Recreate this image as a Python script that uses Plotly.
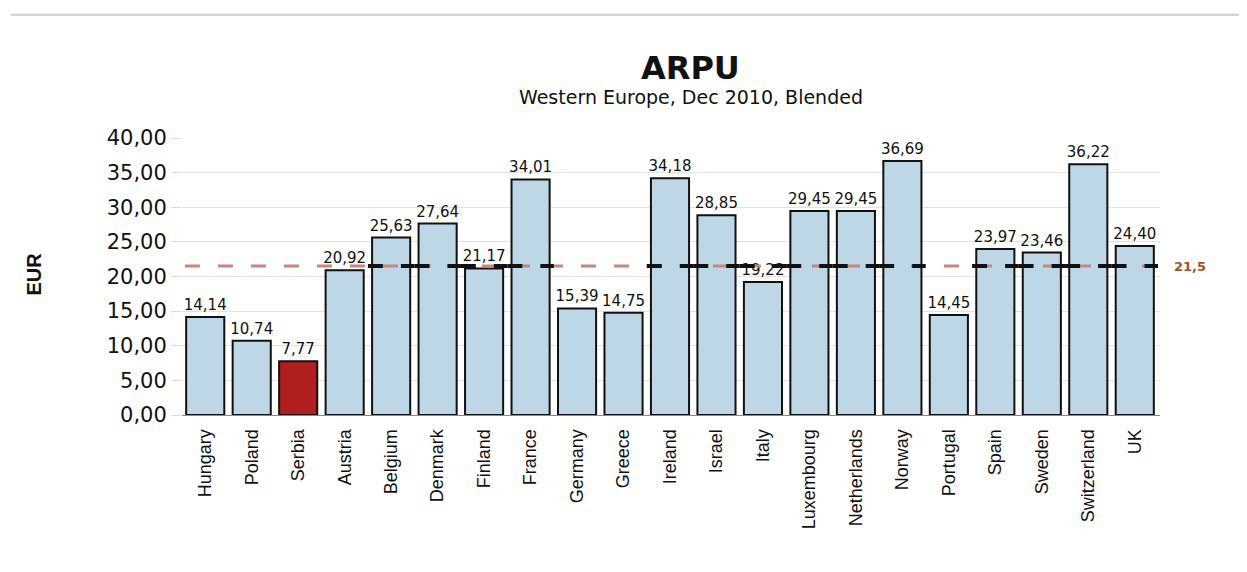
import plotly.graph_objects as go

countries = ["Hungary", "Poland", "Serbia", "Austria", "Belgium", "Denmark", "Finland",
             "France", "Germany", "Greece", "Ireland", "Israel", "Italy", "Luxembourg",
             "Netherlands", "Norway", "Portugal", "Spain", "Sweden", "Switzerland", "UK"]
arpu = [14.14, 10.74, 7.77, 20.92, 25.63, 27.64, 21.17, 34.01, 15.39, 14.75, 34.18,
        28.85, 19.22, 29.45, 29.45, 36.69, 14.45, 23.97, 23.46, 36.22, 24.40]
highlight = "Serbia"
average = 21.5
# categories over which the average line appears black in the scan
dark_line_over = ["Belgium", "Denmark", "Finland", "France", "Ireland", "Israel", "Italy",
                  "Luxembourg", "Netherlands", "Norway", "Spain", "Sweden", "Switzerland", "UK"]
y_ticks = [0, 5, 10, 15, 20, 25, 30, 35, 40]

colors = ["#b01e1e" if c == highlight else "#bdd7e7" for c in countries]

fig = go.Figure()
fig.add_trace(go.Bar(
    x=countries, y=arpu,
    marker=dict(color=colors, line=dict(color="#111111", width=2)),
    texttemplate="%{y:.2f}", textposition="outside", cliponaxis=False,
    constraintext="none",
    textfont=dict(family="DejaVu Sans", size=15, color="#111111"),
    showlegend=False,
))

shapes = [dict(type="line", xref="paper", yref="y", x0=0.003, x1=1.005, y0=average, y1=average,
               line=dict(color="#c9877a", width=3, dash="15px,18px"), layer="above")]
for c in dark_line_over:
    i = countries.index(c)
    shapes.append(dict(type="line", xref="x", yref="y", x0=i - 0.5, x1=i + 0.5,
                       y0=average, y1=average,
                       line=dict(color="#111111", width=4, dash="15px,18px"), layer="above"))
# scan frame line at top
shapes.append(dict(type="line", xref="paper", yref="paper", x0=-0.175, x1=1.1, y0=1.445, y1=1.445,
                   line=dict(color="#cccccc", width=2)))

fig.update_layout(
    width=1247, height=572,
    paper_bgcolor="white", plot_bgcolor="white",
    separators=",.",
    margin=dict(l=174, r=95, t=130, b=165),
    bargap=0.18,
    shapes=shapes,
    font=dict(family="DejaVu Sans", color="#111111"),
    xaxis=dict(
        tickangle=-90, showline=True, linecolor="#888888", linewidth=1,
        tickfont=dict(family="Liberation Sans", size=18, color="#111111"),
        ticks="outside", ticklen=6, tickcolor="rgba(0,0,0,0)", showgrid=False,
    ),
    yaxis=dict(
        range=[0, 40], tickvals=y_ticks, tickformat=".2f",
        tickfont=dict(family="DejaVu Sans", size=21, color="#111111"),
        showgrid=True, gridcolor="#e3e3e3", zeroline=False,
        ticks="outside", ticklen=10, tickcolor="#dddddd",
    ),
    annotations=[
        dict(text="<b>ARPU</b>", xref="paper", yref="paper", x=0.52, y=1.0, yshift=91,
             showarrow=False, font=dict(family="DejaVu Sans", size=32, color="#111111")),
        dict(text="Western Europe, Dec 2010, Blended", xref="paper", yref="paper", x=0.52, y=1.0,
             yshift=54, showarrow=False, font=dict(family="DejaVu Sans", size=19, color="#111111")),
        dict(text="<b>EUR</b>", xref="paper", yref="paper", x=0, xshift=-162, y=0.5, yshift=2,
             textangle=-90, showarrow=False, font=dict(family="Liberation Sans", size=20, color="#111111")),
        dict(text="<b>21,5</b>", xref="paper", yref="y", x=1.0, xshift=30, xanchor="center", y=average,
             showarrow=False, font=dict(family="DejaVu Sans", size=13, color="#a0522d")),
    ],
)

fig.write_html("out.html")
